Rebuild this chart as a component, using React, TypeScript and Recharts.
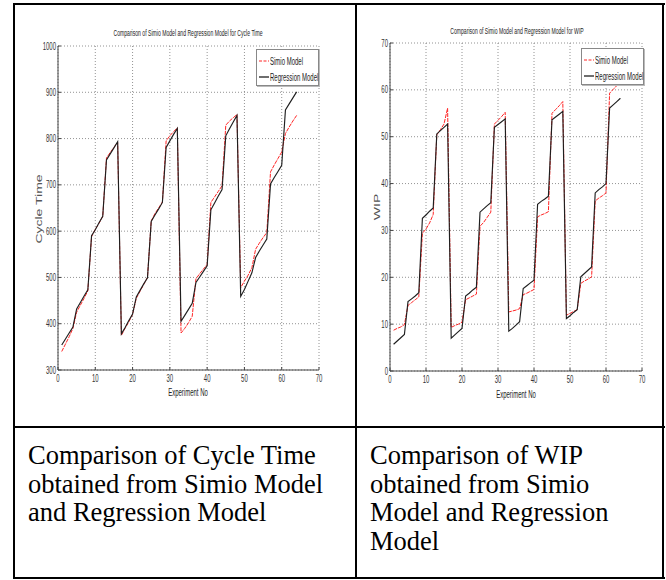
import React from 'react';
import { LineChart, Line, XAxis, YAxis, CartesianGrid, Legend } from 'recharts';

// experiment numbers (x axis)
const experiments = [
  1, 2, 3, 4, 5, 6, 7, 8, 9, 10, 11, 12, 13, 14, 15, 16,
  17, 18, 19, 20, 21, 22, 23, 24, 25, 26, 27, 28, 29, 30, 31, 32,
  33, 34, 35, 36, 37, 38, 39, 40, 41, 42, 43, 44, 45, 46, 47, 48,
  49, 50, 51, 52, 53, 54, 55, 56, 57, 58, 59, 60, 61, 62, 63, 64,
];

// cycle time
const ctSimio = [
  340, 356, 372, 390, 425, 440, 455, 471, 588, 604, 617, 632, 758, 770, 781, 792,
  375, 390, 404, 420, 455, 470, 485, 500, 622, 638, 650, 663, 795, 806, 815, 823,
  380, 390, 402, 416, 497, 508, 518, 528, 662, 674, 686, 698, 829, 838, 845, 852,
  478, 492, 505, 521, 561, 574, 586, 597, 728, 743, 757, 771, 811, 825, 838, 850,
];
const ctRegression = [
  354, 367, 380, 393, 432, 446, 460, 473, 590, 603, 618, 632, 754, 767, 780, 793,
  378, 392, 407, 421, 458, 472, 486, 499, 621, 635, 648, 662, 781, 795, 809, 822,
  405, 418, 431, 444, 489, 501, 513, 525, 646, 661, 676, 690, 806, 821, 836, 850,
  459, 474, 492, 510, 543, 557, 570, 583, 702, 716, 729, 742, 862, 875, 888, 901,
];

// WIP
const wipSimio = [
  8.7, 9.1, 9.4, 9.9, 14.0, 14.6, 15.2, 15.8, 29.4, 30.3, 31.6, 33.4, 50.4, 51.5, 52.7, 56.1,
  9.3, 9.7, 10.0, 10.4, 15.2, 15.6, 16.0, 16.4, 30.9, 31.7, 32.8, 33.9, 52.7, 53.5, 54.3, 55.2,
  12.6, 12.8, 13.0, 13.3, 16.3, 16.6, 17.0, 17.4, 32.9, 33.3, 33.6, 34.0, 55.0, 55.8, 56.6, 57.5,
  11.9, 12.3, 12.7, 13.1, 18.7, 19.2, 19.6, 20.1, 36.3, 36.9, 37.4, 38.0, 59.3, 60.1, 60.9, 61.8,
];
const wipRegression = [
  5.7, 6.4, 7.1, 7.8, 14.8, 15.4, 16.0, 16.7, 32.6, 33.3, 34.1, 34.8, 50.6, 51.3, 52.0, 52.7,
  7.0, 7.7, 8.4, 9.1, 16.0, 16.6, 17.3, 17.9, 33.9, 34.6, 35.3, 35.9, 52.0, 52.6, 53.2, 53.8,
  8.5, 9.1, 9.8, 10.5, 17.6, 18.2, 18.8, 19.4, 35.6, 36.2, 36.7, 37.3, 53.6, 54.2, 54.8, 55.4,
  11.2, 11.8, 12.5, 13.1, 20.1, 20.8, 21.5, 22.2, 38.0, 38.7, 39.3, 40.0, 56.1, 56.8, 57.5, 58.2,
];

const xTicks = [0, 10, 20, 30, 40, 50, 60, 70];
const ctTicks = [300, 400, 500, 600, 700, 800, 900, 1000];
const wipTicks = [0, 10, 20, 30, 40, 50, 60, 70];
const seriesOrder = ['simio', 'regression'];

const SANS = '"Liberation Sans", Arial, sans-serif';
const SERIF = '"Liberation Serif", "Times New Roman", serif';
const SQUEEZE = 0.6;

const ctData = experiments.map((e, i) => ({ exp: e, simio: ctSimio[i], regression: ctRegression[i] }));
const wipData = experiments.map((e, i) => ({ exp: e, simio: wipSimio[i], regression: wipRegression[i] }));

const YTick = ({ x, y, payload }: any) => (
  <text transform={`translate(${x},${y}) scale(${SQUEEZE},1)`} textAnchor="end" dy="0.36em"
    fontSize={10} fontFamily={SANS} fill="#333">
    {payload.value}
  </text>
);

const XTick = ({ x, y, payload }: any) => (
  <text transform={`translate(${x},${y}) scale(${SQUEEZE},1)`} textAnchor="middle" dy="0.75em"
    fontSize={10} fontFamily={SANS} fill="#333">
    {payload.value}
  </text>
);

const LegendBox = ({ payload }: any) => {
  const items = [...(payload || [])].sort(
    (a: any, b: any) => seriesOrder.indexOf(a.dataKey) - seriesOrder.indexOf(b.dataKey)
  );
  return (
    <div style={{
      width: 61, height: 35, background: '#fff', border: '1px solid #888',
      boxShadow: '1px 1px 0 #bbb', position: 'relative',
    }}>
      {items.map((p: any, i: number) => (
        <div key={p.value} style={{ position: 'absolute', left: 2, top: 5 + i * 16, height: 12, display: 'flex', alignItems: 'center' }}>
          <svg width={10} height={12}>
            <line x1={0} x2={10} y1={6} y2={6} stroke={p.color} strokeWidth={p.dataKey === 'simio' ? 1 : 1.3}
              strokeDasharray={p.dataKey === 'simio' ? '3 1.5' : undefined} />
          </svg>
          <span style={{
            fontFamily: SANS, fontSize: 10, color: '#222', whiteSpace: 'nowrap',
            display: 'inline-block', transform: `scaleX(${SQUEEZE})`, transformOrigin: 'left center', marginLeft: 1,
          }}>
            {p.value}
          </span>
        </div>
      ))}
    </div>
  );
};

const SmallText = ({ x, y, children, rotate, size = 8, color = '#222' }: any) => (
  <div style={{
    position: 'absolute', left: x, top: y, whiteSpace: 'nowrap', fontFamily: SANS, fontSize: size, color,
    lineHeight: 1, transform: `translate(-50%,-50%) scaleX(${SQUEEZE})${rotate ? ' rotate(-90deg)' : ''}`,
  }}>
    {children}
  </div>
);

function MatlabPlot({ data, width, height, margin, yWidth, xHeight, yDomain, yTicks, legendPos }: any) {
  return (
    <LineChart width={width} height={height} data={data} margin={margin} style={{ background: '#fff' }}>
      <CartesianGrid stroke="#777" strokeDasharray="1 2" strokeWidth={0.8} horizontalValues={yTicks} verticalValues={xTicks} />
      <XAxis dataKey="exp" type="number" domain={[0, 70]} ticks={xTicks} height={xHeight}
        stroke="#444" tickSize={-3} tickMargin={7} tick={XTick} allowDataOverflow />
      <YAxis type="number" domain={yDomain} ticks={yTicks} width={yWidth}
        stroke="#444" tickSize={-3} tickMargin={5} tick={YTick} allowDataOverflow />
      <Legend layout="vertical" align="center" verticalAlign="middle" content={LegendBox}
        wrapperStyle={{ left: legendPos[0], top: legendPos[1], width: 'auto', height: 'auto' }} />
      <Line type="linear" dataKey="simio" name="Simio Model" stroke="#ff2424" strokeWidth={1}
        strokeDasharray="4 1" dot={false} isAnimationActive={false} />
      <Line type="linear" dataKey="regression" name="Regression Model" stroke="#1f1f1f" strokeWidth={1.15}
        dot={false} isAnimationActive={false} />
    </LineChart>
  );
}

const Rule = ({ x, y, w, h }: any) => (
  <div style={{ position: 'absolute', left: x, top: y, width: w, height: h, background: '#000' }} />
);

export default function App() {
  return (
    <div style={{ position: 'absolute', left: 0, top: 0, width: 666, height: 580, background: '#fff', overflow: 'hidden' }}>
      {/* cycle time chart */}
      <div style={{ position: 'absolute', left: 14, top: 5 }}>
        <MatlabPlot data={ctData} width={340} height={420}
          margin={{ top: 41, right: 35, bottom: 0, left: 0 }} yWidth={44} xHeight={55}
          yDomain={[300, 1000]} yTicks={ctTicks} legendPos={[242, 44]} />
      </div>
      <SmallText x={188} y={33} size={8.5}>Comparison of Simio Model and Regression Model for Cycle Time</SmallText>
      <SmallText x={188} y={393} size={10}>Experiment No</SmallText>
      <SmallText x={39} y={209} size={14} color="#555" rotate>Cycle Time</SmallText>

      {/* WIP chart */}
      <div style={{ position: 'absolute', left: 358, top: 5 }}>
        <MatlabPlot data={wipData} width={303} height={420}
          margin={{ top: 38, right: 19, bottom: 0, left: 0 }} yWidth={32} xHeight={54}
          yDomain={[0, 70]} yTicks={wipTicks} legendPos={[223, 43]} />
      </div>
      <SmallText x={517} y={31} size={8.5}>Comparison of Simio Model and Regression Model for WIP</SmallText>
      <SmallText x={516} y={395} size={10}>Experiment No</SmallText>
      <SmallText x={377} y={207} size={14} color="#555" rotate>WIP</SmallText>

      {/* table rules */}
      <Rule x={13} y={3} w={652} h={2} />
      <Rule x={13} y={426} w={652} h={2} />
      <Rule x={13} y={577} w={652} h={2} />
      <Rule x={13} y={3} w={2} h={576} />
      <Rule x={355} y={3} w={2} h={576} />
      <Rule x={662} y={3} w={2} h={576} />

      <div style={{ position: 'absolute', left: 28, top: 441, fontFamily: SERIF, fontSize: 26.5, lineHeight: '28.5px', color: '#000', whiteSpace: 'nowrap' }}>
        Comparison of Cycle Time<br />obtained from Simio Model<br />and Regression Model
      </div>
      <div style={{ position: 'absolute', left: 370, top: 441, fontFamily: SERIF, fontSize: 26.5, lineHeight: '28.5px', color: '#000', whiteSpace: 'nowrap' }}>
        Comparison of WIP<br />obtained from Simio<br />Model and Regression<br />Model
      </div>
    </div>
  );
}
